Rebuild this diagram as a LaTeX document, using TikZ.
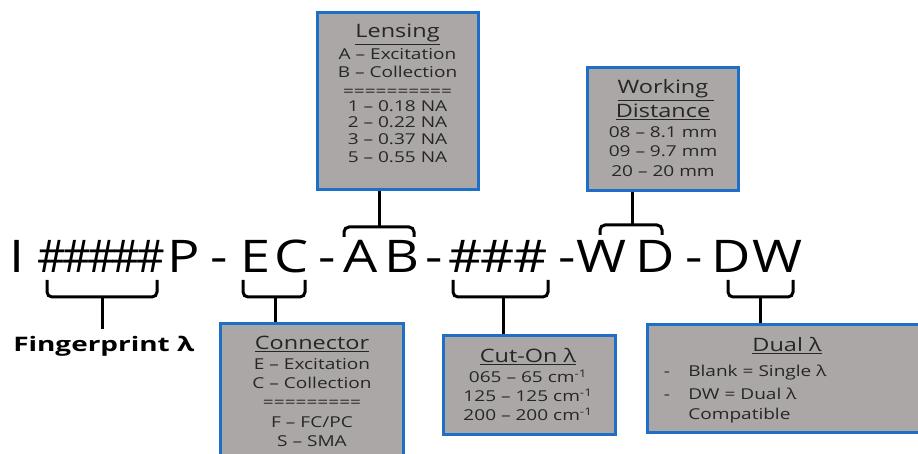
\documentclass[tikz,border=0pt]{standalone}
\usepackage{fontspec}
\setmainfont{Open Sans}
\definecolor{boxfill}{HTML}{ABA7A7}
\definecolor{boxline}{HTML}{1F6FC6}
\definecolor{txtc}{HTML}{262626}
\begin{document}
\begin{tikzpicture}[x=1pt,y=1pt,
  tx/.style={inner sep=0pt, xscale=1.27, transform shape, text=txtc, anchor=base, font=\fontsize{15}{17}\selectfont},
  ttl/.style={tx, font=\fontsize{18.5}{20}\selectfont},
  mainch/.style={inner sep=0pt, xscale=1.2, transform shape, text=black, anchor=base, font=\fontsize{45}{50}\selectfont},
  hashch/.style={mainch, xscale=0.82},
  hashw/.style={mainch, xscale=0.98},
  infobox/.style={draw=boxline, fill=boxfill, line width=3pt, inner sep=0pt},
  brace/.style={line width=3pt, rounded corners=5pt}
]
\useasboundingbox (0,0) rectangle (918,454);
\clip (0,0) rectangle (918,454);

% ---- boxes ----
\node[infobox, minimum width=161pt, minimum height=177pt] (lens) at (397.5,352.5) {};
\node[infobox, minimum width=151pt, minimum height=123pt] (wd) at (662.5,324.5) {};
\node[infobox, minimum width=183pt, minimum height=150pt] (conn) at (311.5,55) {};
\node[infobox, minimum width=172pt, minimum height=99pt] (cut) at (529,68.5) {};
\node[infobox, minimum width=288pt, minimum height=108pt] (dual) at (791,75) {};

% ---- Lensing text ----
\node[ttl] (lensT) at (397.5,416) {\underline{Lensing}};
\node[tx] (lens1) at (397.5,394) {A – Excitation};
\node[tx] (lens2) at (397.5,376) {B – Collection};
\node[tx] (lens3) at (397.5,357) {==========};
\node[tx] (lens4) at (397.5,342) {1 – 0.18 NA};
\node[tx] (lens5) at (397.5,326) {2 – 0.22 NA};
\node[tx] (lens6) at (397.5,309) {3 – 0.37 NA};
\node[tx] (lens7) at (397.5,291) {5 – 0.55 NA};

% ---- Working distance text ----
\node[ttl] (wdT1) at (666,360) {\underline{Working\ }};
\node[ttl] (wdT2) at (663,336) {\underline{Distance}};
\node[tx] (wd1) at (663,316) {08 – 8.1 mm};
\node[tx] (wd2) at (663,297) {09 – 9.7 mm};
\node[tx] (wd3) at (663,277) {20 – 20 mm};

% ---- Connector text ----
\node[ttl] (connT) at (312,104) {\underline{Connector}};
\node[tx] (conn1) at (312,84) {E – Excitation};
\node[tx] (conn2) at (312,65) {C – Collection};
\node[tx] (conn3) at (312,46) {=========};
\node[tx] (conn4) at (312,26) {F – FC/PC};
\node[tx] (conn5) at (312,7) {S – SMA};

% ---- Cut-On text ----
\node[ttl] (cutT) at (528,91) {\underline{Cut-On λ}};
\node[tx] (cut1) at (528,71) {065 – 65 cm\textsuperscript{-1}};
\node[tx] (cut2) at (528,52) {125 – 125 cm\textsuperscript{-1}};
\node[tx] (cut3) at (528,33) {200 – 200 cm\textsuperscript{-1}};

% ---- Dual text ----
\node[ttl] (dualT) at (787,102) {\underline{Dual λ}};
\node[tx] (dualD1) at (667,77) {-};
\node[tx, anchor=base west] (dual1) at (688,77) {Blank = Single λ};
\node[tx] (dualD2) at (667,54) {-};
\node[tx, anchor=base west] (dual2) at (688,54) {DW = Dual λ};
\node[tx, anchor=base west] (dual3) at (688,34) {Compatible};

% ---- Fingerprint label ----
\node[tx, anchor=base west, xscale=1.1, text=black, font=\bfseries\fontsize{20}{22}\selectfont] (fp) at (13,102) {Fingerprint λ};

% ---- main code string ----
\node[mainch] (cI) at (17.5,181.5) {I};
\node[hashch] (h1) at (52,181.5) {\#};
\node[hashch] (h2) at (76.75,181.5) {\#};
\node[hashch] (h3) at (101.5,181.5) {\#};
\node[hashch] (h4) at (126.25,181.5) {\#};
\node[hashch] (h5) at (151,181.5) {\#};
\node[mainch] (cP) at (184,181.5) {P};
\node[mainch] (d1) at (219,181.5) {-};
\node[mainch] (cE) at (256,181.5) {E};
\node[mainch] (cC) at (292,181.5) {C};
\node[mainch] (d2) at (327,181.5) {-};
\node[mainch] (cA) at (361,181.5) {A};
\node[mainch] (cB) at (402,181.5) {B};
\node[mainch] (d3) at (434,181.5) {-};
\node[hashw] (h6) at (466,181.5) {\#};
\node[hashw] (h7) at (498,181.5) {\#};
\node[hashw] (h8) at (531,181.5) {\#};
\node[mainch] (d4) at (567,181.5) {-};
\node[mainch] (cW1) at (601,181.5) {W};
\node[mainch] (cD1) at (655,181.5) {D};
\node[mainch] (d5) at (694,181.5) {-};
\node[mainch] (cD2) at (731,181.5) {D};
\node[mainch] (cW2) at (777,181.5) {W};

% ---- braces ----
% fingerprint
\coordinate (fpL) at (47,174); \coordinate (fpR) at (157,174); \coordinate (fpM) at (102,157);
\draw[brace] (fpL) |- (fpR |- fpM) -- (fpR);
\draw[brace] (fpM) -- ([yshift=7pt]fpM |- fp.north);
% connector
\coordinate (ecL) at (243,174); \coordinate (ecR) at (305,174); \coordinate (ecM) at (275,157);
\draw[brace] (ecL) |- (ecR |- ecM) -- (ecR);
\draw[brace] (ecM) -- (ecM |- conn.north);
% lensing
\coordinate (abL) at (344,217); \coordinate (abR) at (414,217); \coordinate (abM) at (379,227);
\draw[brace] (abL) |- (abR |- abM) -- (abR);
\draw[brace] (abM) -- (abM |- lens.south);
% cut-on
\coordinate (hsL) at (453,174); \coordinate (hsR) at (548,174); \coordinate (hsM) at (503,157);
\draw[brace] (hsL) |- (hsR |- hsM) -- (hsR);
\draw[brace] (hsM) -- (hsM |- cut.north);
% working distance
\coordinate (wdL) at (600,219); \coordinate (wdR) at (662,219); \coordinate (wdM) at (632,229);
\draw[brace] (wdL) |- (wdR |- wdM) -- (wdR);
\draw[brace] (wdM) -- (wdM |- wd.south);
% dual
\coordinate (dwL) at (728,174); \coordinate (dwR) at (793,174); \coordinate (dwM) at (760,157);
\draw[brace] (dwL) |- (dwR |- dwM) -- (dwR);
\draw[brace] (dwM) -- (dwM |- dual.north);
\end{tikzpicture}
\end{document}
